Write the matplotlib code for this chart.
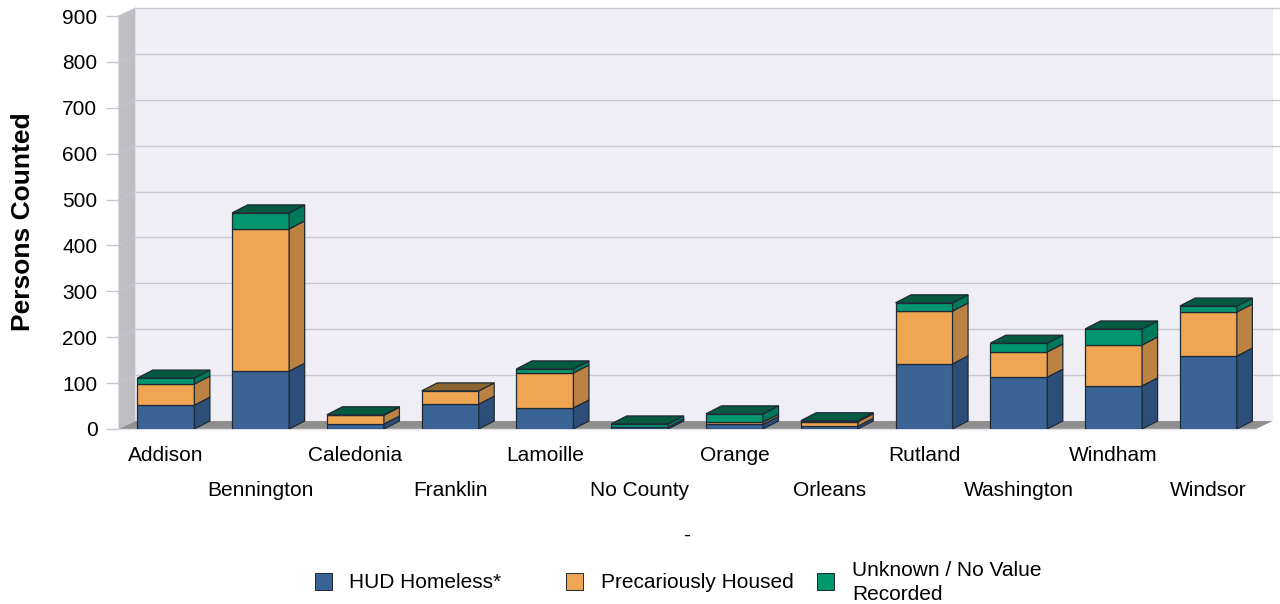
import matplotlib
matplotlib.use('Agg')
import matplotlib.pyplot as plt
from matplotlib.patches import Rectangle

# values
counties = ['Addison', 'Bennington', 'Caledonia', 'Franklin', 'Lamoille', 'No County',
            'Orange', 'Orleans', 'Rutland', 'Washington', 'Windham', 'Windsor']
hud_homeless = [52, 126, 11, 54, 46, 4, 10, 6, 142, 113, 94, 159]
precarious = [46, 310, 19, 29, 76, 0, 5, 10, 115, 55, 89, 96]
unknown = [13, 35, 1, 0, 9, 7, 18, 2, 18, 19, 35, 13]
y_ticks = [0, 100, 200, 300, 400, 500, 600, 700, 800, 900]
legend_labels = ['HUD Homeless*', 'Precariously Housed', 'Unknown / No Value\nRecorded']

W, H = 1280, 604
X0 = 118.5              # left edge of the plot, pixels
PX_X = 94.77            # pixels per category
PX_Y = 413 / 900        # pixels per value unit

# colours: front, side, top
BLUE = ('#3A6496', '#2C4E78', '#2C4E78')
ORANGE = ('#F0A552', '#BC8242', '#8C6430')
GREEN = ('#00966E', '#00795A', '#04593F')
EDGE = '#1E2A36'
GRID = '#C8C6D4'

plt.rcParams['font.family'] = ['Liberation Sans', 'DejaVu Sans']
plt.rcParams['font.size'] = 15

fig = plt.figure(figsize=(W / 100, H / 100), dpi=100)
ax = fig.add_axes([X0 / W, 1 - 429 / H, (W - X0) / W, 413 / H])
ax.set_xlim(-0.5, -0.5 + (W - X0) / PX_X)
ax.set_ylim(0, 900)
ax.patch.set_visible(False)
for s in ax.spines.values():
    s.set_visible(False)

# wall depth
wall_dx = 17 / PX_X
wall_dy = 8 / PX_Y
right = 11.5
x_end = ax.get_xlim()[1]

# back wall, side wall, floor
ax.fill([-0.5 + wall_dx, right + wall_dx, right + wall_dx, -0.5 + wall_dx],
        [wall_dy, wall_dy, 900 + wall_dy, 900 + wall_dy], color='#EFEEF4', lw=0, clip_on=False, zorder=1)
ax.fill([-0.5, -0.5 + wall_dx, -0.5 + wall_dx, -0.5],
        [0, wall_dy, 900 + wall_dy, 900], color='#BFBFC3', lw=0, clip_on=False, zorder=2)
ax.fill([-0.5, -0.5 + wall_dx, right + wall_dx, right],
        [0, wall_dy, wall_dy, 0], color='#8F8F8F', lw=0, clip_on=False, zorder=2)

# gridlines on the wall
for v in y_ticks[1:]:
    ax.plot([-0.5 + wall_dx, x_end], [v + wall_dy, v + wall_dy], color=GRID, lw=1, clip_on=False, zorder=3)
    ax.plot([-0.5, -0.5 + wall_dx], [v, v + wall_dy], color=GRID, lw=0.7, clip_on=False, zorder=3)
ax.plot([-0.5, right], [0, 0], color='#E2E1EA', lw=1, clip_on=False, zorder=3)

# 3d stacked bars
bar_half = 28.5 / PX_X
bar_dx = 15.5 / PX_X
bar_dy = 8 / PX_Y
for i in range(len(counties)):
    bottom = 0
    l, r = i - bar_half, i + bar_half
    last = None
    for vals, cols in ((hud_homeless, BLUE), (precarious, ORANGE), (unknown, GREEN)):
        v = vals[i]
        if v == 0:
            continue
        top = bottom + v
        ax.fill([l, r, r, l], [bottom, bottom, top, top], fc=cols[0], ec=EDGE, lw=0.9, zorder=5)
        ax.fill([r, r + bar_dx, r + bar_dx, r], [bottom, bottom + bar_dy, top + bar_dy, top],
                fc=cols[1], ec=EDGE, lw=0.9, zorder=5)
        bottom = top
        last = cols
    ax.fill([l, r, r + bar_dx, l + bar_dx], [bottom, bottom, bottom + bar_dy, bottom + bar_dy],
            fc=last[2], ec=EDGE, lw=0.9, zorder=6)

# axes ticks and labels
ax.set_yticks(y_ticks)
ax.tick_params(axis='y', length=9.4, width=1, color=GRID, pad=5.8, labelsize=15)
ax.set_xticks(range(len(counties)))
ax.set_xticklabels(counties)
ax.tick_params(axis='x', length=0, labelsize=15)
for i, tick in enumerate(ax.xaxis.get_major_ticks()):
    tick.set_pad(12.4 if i % 2 == 0 else 37.3)

fig.text(23 / W, 1 - 222 / H, 'Persons Counted', rotation=90, ha='center', va='center',
         fontsize=19, fontweight='bold')
fig.text(687 / W, 1 - 535 / H, '-', ha='center', va='center', fontsize=15)

# legend
swatch_x = [315, 566, 817]
text_x = [349, 601, 852]
for x0, tx, lab, cols in zip(swatch_x, text_x, legend_labels, (BLUE, ORANGE, GREEN)):
    fig.add_artist(Rectangle((x0 / W, 1 - 591 / H), 17 / W, 17 / H, transform=fig.transFigure,
                             fc='#9A9A9A', ec='none'))
    fig.add_artist(Rectangle((x0 / W, 1 - 590 / H), 17 / W, 17 / H, transform=fig.transFigure,
                             fc=cols[0], ec=EDGE, lw=0.7))
    fig.text(tx / W, 1 - 582.5 / H, lab, ha='left', va='center', fontsize=15, linespacing=1.32)

fig.savefig('out.png', dpi=100)
